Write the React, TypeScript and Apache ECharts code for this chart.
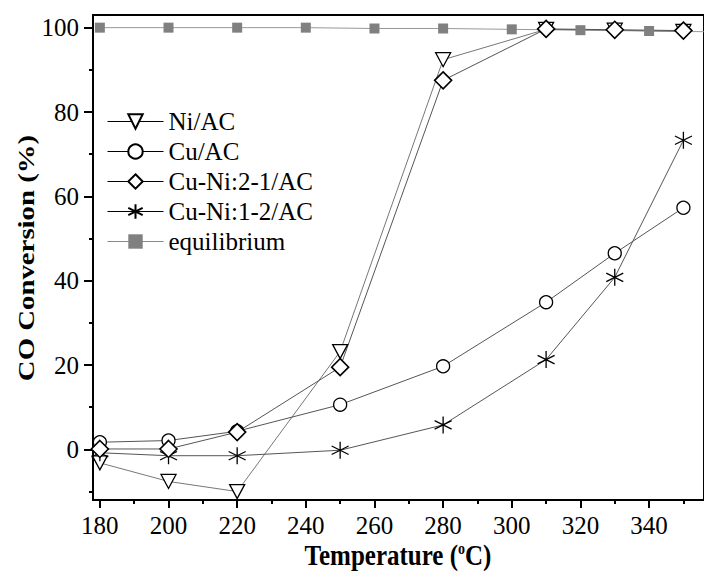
import React, { useEffect, useRef } from "react";
import * as echarts from "echarts";

const temps = [180, 200, 220, 250, 280, 310, 330, 350];
const niAC = [-3.2, -7.6, -10, 23.2, 92.4, 99.6, 99.4, 99.1];
const cuAC = [1.7, 2.1, 4.3, 10.6, 19.7, 34.9, 46.5, 57.3];
const cuNi21 = [0.1, 0.1, 4.1, 19.5, 87.5, 99.7, 99.5, 99.3];
const cuNi12 = [-0.8, -1.5, -1.5, -0.2, 5.8, 21.3, 40.8, 73.3];
const eqTemps = [180, 200, 220, 240, 260, 280, 300, 320, 340, 360];
const equilibrium = [100, 100, 100, 100, 99.8, 99.8, 99.6, 99.4, 99.2, 99.0];

const xMajor = [180, 200, 220, 240, 260, 280, 300, 320, 340];
const xMinor = [190, 210, 230, 250, 270, 290, 310, 330, 350];
const yMajor = [0, 20, 40, 60, 80, 100];
const yMinor = [-10, 10, 30, 50, 70, 90];

const FONT = "Liberation Serif";

const pair = (xs: number[], ys: number[]) => xs.map((x, i) => [x, ys[i]]);

export default function App() {
  const ref = useRef<HTMLDivElement>(null);
  useEffect(() => {
    if (!ref.current) return;
    const chart = echarts.init(ref.current, undefined, { renderer: "svg" });
    const xBase = { type: "value", min: 178, max: 356, gridIndex: 0, position: "bottom", splitLine: { show: false } };
    const yBase = { type: "value", min: -12, max: 103, gridIndex: 0, position: "left", splitLine: { show: false } };
    const markerStyle = { color: "#fff", borderColor: "#000", borderWidth: 1.3 };
    const blackLine = { color: "#000", width: 1 };
    chart.setOption({
      animation: false,
      backgroundColor: "#fff",
      grid: { left: 93, top: 15, width: 626, height: 485, show: true, borderColor: "#000", borderWidth: 2, backgroundColor: "transparent" },
      xAxis: [
        {
          ...xBase,
          axisLine: { show: true, onZero: false, lineStyle: { color: "#000", width: 2 } },
          axisTick: { show: true, inside: false, length: 8, customValues: xMajor, lineStyle: { color: "#000", width: 2 } },
          axisLabel: { show: true, customValues: xMajor, margin: 13, color: "#000", fontFamily: FONT, fontSize: 25 },
        },
        {
          ...xBase,
          axisLine: { show: false, onZero: false },
          axisTick: { show: true, inside: false, length: 4, customValues: xMinor, lineStyle: { color: "#000", width: 2 } },
          axisLabel: { show: false },
        },
      ],
      yAxis: [
        {
          ...yBase,
          axisLine: { show: true, onZero: false, lineStyle: { color: "#000", width: 2 } },
          axisTick: { show: true, inside: false, length: 9, customValues: yMajor, lineStyle: { color: "#000", width: 2 } },
          axisLabel: { show: true, customValues: yMajor, margin: 14, color: "#000", fontFamily: FONT, fontSize: 25 },
        },
        {
          ...yBase,
          axisLine: { show: false, onZero: false },
          axisTick: { show: true, inside: false, length: 4, customValues: yMinor, lineStyle: { color: "#000", width: 2 } },
          axisLabel: { show: false },
        },
      ],
      legend: {
        orient: "vertical",
        left: 107,
        top: 109,
        padding: 0,
        itemWidth: 56,
        itemHeight: 18,
        itemGap: 5,
        data: [
          { name: "Ni/AC", lineStyle: blackLine },
          { name: "Cu/AC", lineStyle: blackLine },
          { name: "Cu-Ni:2-1/AC", lineStyle: blackLine },
          { name: "Cu-Ni:1-2/AC", lineStyle: blackLine },
          { name: "equilibrium", lineStyle: { color: "#888", width: 1 } },
        ],
        textStyle: { color: "#000", fontFamily: FONT, fontSize: 25 },
      },
      graphic: [
        {
          type: "text",
          x: 398,
          y: 555,
          scaleY: 1.15,
          style: {
            text: "{b|Temperature (}{s|o}{b|C)}",
            align: "center",
            verticalAlign: "middle",
            fill: "#000",
            rich: {
              b: { fontFamily: FONT, fontWeight: "bold", fontSize: 25, fill: "#000" },
              s: { fontFamily: FONT, fontWeight: "bold", fontSize: 14, verticalAlign: "top", fill: "#000" },
            },
          },
        },
        {
          type: "text",
          x: 26,
          y: 258,
          rotation: Math.PI / 2,
          scaleX: 1.2,
          style: {
            text: "CO Conversion (%)",
            align: "center",
            verticalAlign: "middle",
            fill: "#000",
            fontFamily: FONT,
            fontWeight: "bold",
            fontSize: 24,
          },
        },
      ],
      series: [
        {
          name: "equilibrium",
          type: "line",
          data: pair(eqTemps, equilibrium),
          symbol: "rect",
          symbolSize: 10,
          itemStyle: { color: "#808080", borderWidth: 0 },
          lineStyle: { color: "#999", width: 1 },
        },
        {
          name: "Ni/AC",
          type: "line",
          data: pair(temps, niAC),
          symbol: "path://M0,0L10,0L5,8.66Z",
          symbolSize: [15, 14],
          itemStyle: markerStyle,
          lineStyle: { color: "#777", width: 1 },
        },
        {
          name: "Cu/AC",
          type: "line",
          data: pair(temps, cuAC),
          symbol: "circle",
          symbolSize: 13,
          itemStyle: markerStyle,
          lineStyle: { color: "#555", width: 1 },
        },
        {
          name: "Cu-Ni:1-2/AC",
          type: "line",
          data: pair(temps, cuNi12),
          symbol: "path://M0,-1L0,1M-0.866,-0.5L0.866,0.5M-0.866,0.5L0.866,-0.5",
          symbolSize: 17,
          itemStyle: { color: "none", borderColor: "#000", borderWidth: 1.3 },
          lineStyle: { color: "#555", width: 1 },
        },
        {
          name: "Cu-Ni:2-1/AC",
          type: "line",
          data: pair(temps, cuNi21),
          symbol: "diamond",
          symbolSize: 17,
          itemStyle: { color: "#fff", borderColor: "#000", borderWidth: 1.6 },
          lineStyle: { color: "#555", width: 1 },
        },
      ],
    });
    return () => chart.dispose();
  }, []);
  return <div ref={ref} style={{ position: "fixed", left: 0, top: 0, width: 704, height: 577 }} />;
}
